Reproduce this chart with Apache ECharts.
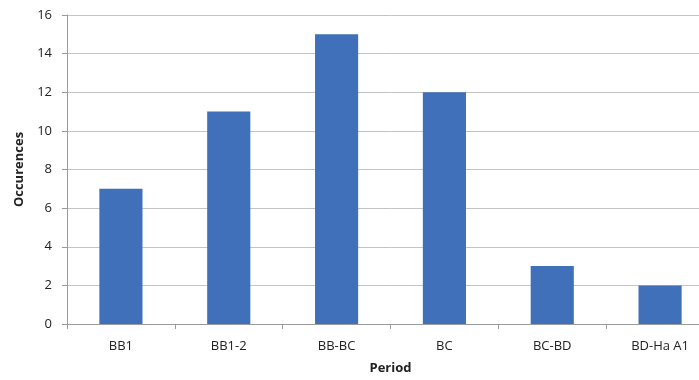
<!DOCTYPE html>
<html>
<head>
<meta charset="utf-8">
<script src="https://cdn.jsdelivr.net/npm/echarts@6/dist/echarts.min.js"></script>
<style>
  html, body { margin: 0; padding: 0; background: #fff; }
  #frame { width: 699px; height: 380px; overflow: hidden; }
  #chart { width: 720px; height: 380px; }
</style>
</head>
<body>
<div id="frame"><div id="chart"></div></div>
<script>
// Occurrence counts per period
const periods = ['BB1', 'BB1-2', 'BB-BC', 'BC', 'BC-BD', 'BD-Ha A1'];
const occurrences = [7, 11, 15, 12, 3, 2];
const yTicks = { min: 0, max: 16, step: 2 };

const chart = echarts.init(document.getElementById('chart'));
const font = '"Open Sans", "Liberation Sans", sans-serif';

chart.setOption({
  animation: false,
  grid: { left: 67, top: 15, width: 647, height: 309 },
  xAxis: {
    type: 'category',
    data: periods,
    name: 'Period',
    nameLocation: 'middle',
    nameGap: 38,
    nameTextStyle: { fontFamily: font, fontSize: 13, fontWeight: 'bold', color: '#222' },
    axisLine: { lineStyle: { color: '#9a9a9a', width: 1 } },
    axisTick: { show: true, alignWithLabel: false, length: 5, lineStyle: { color: '#9a9a9a' } },
    axisLabel: { fontFamily: font, fontSize: 13, color: '#222', margin: 16 },
    splitLine: { show: false }
  },
  yAxis: {
    type: 'value',
    min: yTicks.min,
    max: yTicks.max,
    interval: yTicks.step,
    name: 'Occurences',
    nameLocation: 'middle',
    nameGap: 41,
    nameTextStyle: { fontFamily: font, fontSize: 13, fontWeight: 'bold', color: '#222' },
    axisLine: { show: true, lineStyle: { color: '#9a9a9a', width: 1 } },
    axisTick: { show: true, length: 5, lineStyle: { color: '#9a9a9a' } },
    axisLabel: { fontFamily: font, fontSize: 13, color: '#222', margin: 15 },
    splitLine: { show: true, lineStyle: { color: '#c4c4c4', width: 1 } }
  },
  series: [{
    type: 'bar',
    data: occurrences,
    barWidth: '40%',
    itemStyle: { color: '#3f70b9' }
  }]
});
</script>
</body>
</html>
